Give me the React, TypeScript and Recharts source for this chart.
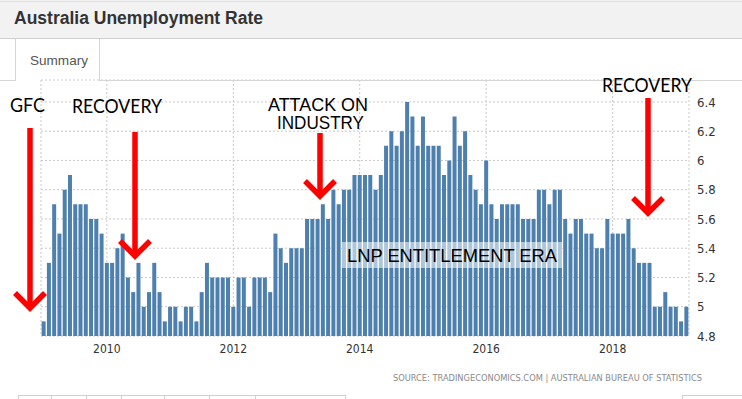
import React from 'react';
import { BarChart, Bar, XAxis, YAxis, CartesianGrid } from 'recharts';

// Monthly unemployment rate (%), Jan..Dec of each year
const rate2009 = [4.9, 5.3, 5.7, 5.5, 5.8, 5.9, 5.7, 5.7, 5.7, 5.6, 5.6, 5.5];
const rate2010 = [5.3, 5.3, 5.4, 5.5, 5.2, 5.1, 5.3, 5.0, 5.1, 5.3, 5.1, 4.9];
const rate2011 = [5.0, 5.0, 4.9, 5.0, 5.0, 4.9, 5.1, 5.3, 5.2, 5.2, 5.2, 5.2];
const rate2012 = [5.0, 5.2, 5.2, 5.0, 5.2, 5.2, 5.2, 5.1, 5.5, 5.4, 5.3, 5.4];
const rate2013 = [5.4, 5.4, 5.6, 5.6, 5.6, 5.7, 5.6, 5.8, 5.7, 5.8, 5.8, 5.9];
const rate2014 = [5.9, 5.9, 5.9, 5.8, 5.9, 6.1, 6.2, 6.1, 6.2, 6.4, 6.3, 6.1];
const rate2015 = [6.3, 6.1, 6.1, 6.1, 5.9, 6.0, 6.3, 6.1, 6.2, 5.9, 5.8, 5.7];
const rate2016 = [6.0, 5.7, 5.6, 5.7, 5.7, 5.7, 5.7, 5.6, 5.6, 5.6, 5.8, 5.8];
const rate2017 = [5.7, 5.8, 5.8, 5.6, 5.5, 5.6, 5.6, 5.5, 5.5, 5.4, 5.4, 5.6];
const rate2018 = [5.5, 5.5, 5.5, 5.6, 5.4, 5.3, 5.3, 5.3, 5.0, 5.0, 5.1, 5.0];
const rate2019 = [5.0, 4.9, 5.0];

const monthCodes = ['01', '02', '03', '04', '05', '06', '07', '08', '09', '10', '11', '12'];
const yearSeries: [string, number[]][] = [
  ['2009', rate2009], ['2010', rate2010], ['2011', rate2011], ['2012', rate2012],
  ['2013', rate2013], ['2014', rate2014], ['2015', rate2015], ['2016', rate2016],
  ['2017', rate2017], ['2018', rate2018], ['2019', rate2019],
];
const xTickYears = ['2010', '2012', '2014', '2016', '2018'];
const yTicks = [4.8, 5, 5.2, 5.4, 5.6, 5.8, 6, 6.2, 6.4];

const data = yearSeries.flatMap(([y, vals]) =>
  vals.map((v, i) => ({ month: `${y}-${monthCodes[i]}`, rate: v }))
);
const xTicks = xTickYears.map((y) => `${y}-01`);

const tickFont = "'Liberation Sans Narrow', 'DejaVu Sans Condensed', 'Liberation Sans', sans-serif";
const arial = "'Liberation Sans', Arial, sans-serif";
const calib = "Lato, 'Open Sans', sans-serif";
const RED = '#ff0000';

function Arrow({ x, y1, y2, hw }: { x: number; y1: number; y2: number; hw: number }) {
  return (
    <g stroke={RED} strokeWidth={5.5} fill="none">
      <line x1={x} y1={y1} x2={x} y2={y2 - 3} />
      <polyline points={`${x - hw},${y2 - hw} ${x},${y2} ${x + hw},${y2 - hw}`} strokeLinejoin="miter" />
    </g>
  );
}

export default function App() {
  return (
    <div style={{ position: 'fixed', left: 0, top: 0, width: 742, height: 399, background: '#fff', overflow: 'hidden' }}>
      <div style={{ position: 'absolute', left: 0, top: 0 }}>
        <BarChart
          width={742}
          height={399}
          data={data}
          margin={{ top: 80, right: 13, left: 41, bottom: 33 }}
          barCategoryGap="12%"
        >
          <CartesianGrid stroke="#c9c9c9" strokeDasharray="2 2" vertical horizontal />
          <XAxis
            dataKey="month"
            ticks={xTicks}
            tickFormatter={(v: string) => v.slice(0, 4)}
            axisLine={false}
            tickLine={false}
            height={30}
            tick={{ fontSize: 12, fill: '#333', fontFamily: tickFont }}
            interval={0}
          />
          <YAxis
            orientation="right"
            width={40}
            domain={[4.8, 6.55]}
            ticks={yTicks}
            allowDataOverflow
            axisLine={false}
            tickLine={false}
            tick={{ fontSize: 13, fill: '#333', fontFamily: tickFont, textAnchor: 'start' }}
            tickFormatter={(v: number) => String(v)}
          />
          <Bar dataKey="rate" fill="#4d80ae" isAnimationActive={false} />
        </BarChart>
      </div>
      <svg width={742} height={399} style={{ position: 'absolute', left: 0, top: 0, pointerEvents: 'none' }}>
        {/* header */}
        <rect x={0} y={0} width={742} height={38} fill="#f2f2f2" />
        <line x1={0} y1={1.5} x2={742} y2={1.5} stroke="#e0e0e0" />
        <line x1={0} y1={38.5} x2={742} y2={38.5} stroke="#cfcfcf" />
        <text x={14} y={24} fontFamily={arial} fontWeight="bold" fontSize={17.5} fill="#333" textLength={249} lengthAdjust="spacingAndGlyphs">
          Australia Unemployment Rate
        </text>
        {/* tab row */}
        <line x1={0} y1={80.5} x2={15.5} y2={80.5} stroke="#d6d6d6" />
        <line x1={99.5} y1={80.5} x2={742} y2={80.5} stroke="#d6d6d6" />
        <line x1={15.5} y1={39} x2={15.5} y2={81} stroke="#d6d6d6" />
        <line x1={99.5} y1={39} x2={99.5} y2={81} stroke="#d6d6d6" />
        <text x={30} y={65} fontFamily={arial} fontSize={13.5} fill="#555" textLength={58} lengthAdjust="spacingAndGlyphs">
          Summary
        </text>

        {/* annotations */}
        <text x={10} y={112} fontFamily={calib} fontSize={19} fill="#000" textLength={35} lengthAdjust="spacingAndGlyphs">GFC</text>
        <text x={72} y={113} fontFamily={calib} fontSize={19} fill="#000" textLength={90} lengthAdjust="spacingAndGlyphs">RECOVERY</text>
        <text x={602} y={92} fontFamily={calib} fontSize={19} fill="#000" textLength={90} lengthAdjust="spacingAndGlyphs">RECOVERY</text>
        <text x={268} y={111} fontFamily={arial} fontSize={17.5} fill="#000" textLength={100} lengthAdjust="spacingAndGlyphs">ATTACK ON</text>
        <text x={277} y={129} fontFamily={arial} fontSize={17.5} fill="#000" textLength={87} lengthAdjust="spacingAndGlyphs">INDUSTRY</text>

        <rect x={342} y={242} width={220} height={26} fill="#ffffff" fillOpacity={0.55} />
        <text x={347} y={262} fontFamily={arial} fontSize={18} fill="#000" textLength={210} lengthAdjust="spacingAndGlyphs">LNP ENTITLEMENT ERA</text>

        <Arrow x={30} y1={128} y2={308} hw={15} />
        <Arrow x={135} y1={132} y2={256} hw={15} />
        <Arrow x={320} y1={133} y2={196} hw={15} />
        <Arrow x={648} y1={98} y2={213} hw={15} />

        {/* source */}
        <text x={702} y={381} textAnchor="end" fontFamily={tickFont} fontSize={8.5} fill="#8a8a8a" textLength={309} lengthAdjust="spacingAndGlyphs">
          SOURCE: TRADINGECONOMICS.COM  |  AUSTRALIAN BUREAU OF STATISTICS
        </text>

        {/* bottom table strip */}
        <g stroke="#d0d0d0" fill="none">
          <line x1={18} y1={395.5} x2={345} y2={395.5} />
          <line x1={682} y1={395.5} x2={742} y2={395.5} />
          {[18, 51, 86, 121, 164, 209, 255, 345, 682].map((x) => (
            <line key={x} x1={x + 0.5} y1={395} x2={x + 0.5} y2={399} />
          ))}
        </g>
      </svg>
    </div>
  );
}
